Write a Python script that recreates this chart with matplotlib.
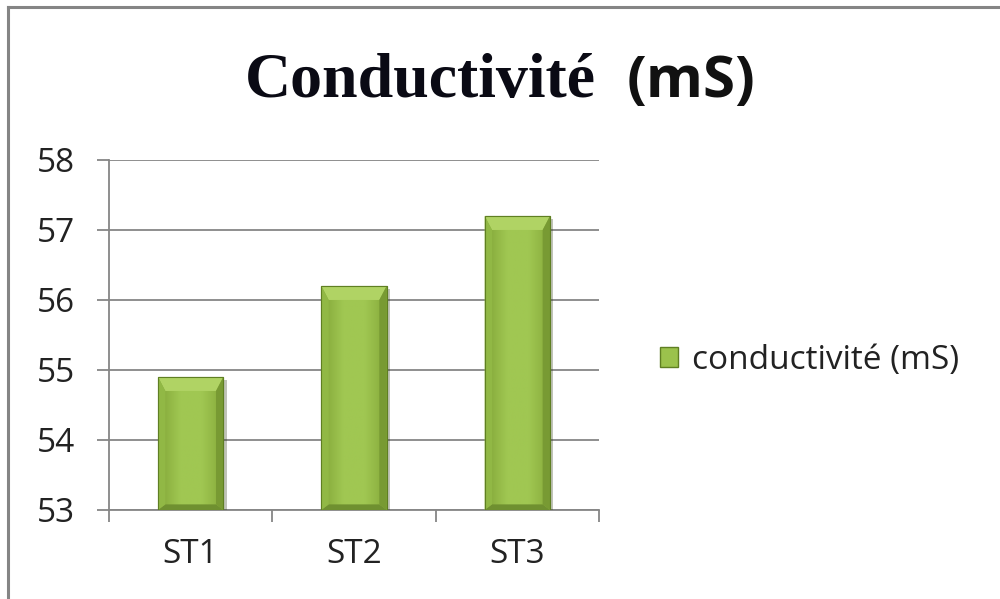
import matplotlib.pyplot as plt
import numpy as np
from matplotlib.patches import Polygon, Patch
from matplotlib.lines import Line2D
from matplotlib.colors import LinearSegmentedColormap
import matplotlib.patheffects as pe

# données
stations = ['ST1', 'ST2', 'ST3']
conductivite = [54.9, 56.2, 57.2]
y_ticks = [53, 54, 55, 56, 57, 58]
serie = 'conductivité (mS)'

base = y_ticks[0]
gris = '#868686'
vert = '#9bc24c'
police = 'Open Sans'

fig = plt.figure(figsize=(10, 5.99), dpi=100)
ax = fig.add_axes([0.109, 0.1486, 0.49, 0.5843])

x = np.arange(len(stations))
bars = ax.bar(x, np.array(conductivite) - base, bottom=base, width=0.4,
              color=vert, edgecolor='#5f7f22', linewidth=0.8, zorder=3)

# dégradé + biseau sur chaque barre
cmap = LinearSegmentedColormap.from_list('vert', ['#82a638', '#a0c752', '#a0c752', '#86aa3a'])
ex, ey = 0.045, 0.2
for b in bars:
    b.set_path_effects([pe.SimplePatchShadow(offset=(2.5, -2), alpha=0.3), pe.Normal()])
    x0, y0 = b.get_x(), b.get_y()
    x1, y1 = x0 + b.get_width(), y0 + b.get_height()
    im = ax.imshow(np.linspace(0, 1, 60).reshape(1, -1), cmap=cmap,
                   extent=[x0, x1, y0, y1], aspect='auto', zorder=3.2)
    im.set_clip_path(b)
    ax.add_patch(Polygon([(x0, y1), (x1, y1), (x1 - ex, y1 - ey), (x0 + ex, y1 - ey)],
                         color='#b0d364', lw=0, zorder=3.4))
    ax.add_patch(Polygon([(x0, y0), (x1, y0), (x1 - ex, y0 + ey * 0.4), (x0 + ex, y0 + ey * 0.4)],
                         color='#6f9030', lw=0, zorder=3.4))
    ax.add_patch(Polygon([(x0, y0), (x0 + ex, y0 + ey * 0.4), (x0 + ex, y1 - ey), (x0, y1)],
                         color='#91b845', lw=0, zorder=3.4))
    ax.add_patch(Polygon([(x1, y0), (x1 - ex, y0 + ey * 0.4), (x1 - ex, y1 - ey), (x1, y1)],
                         color='#789a33', lw=0, zorder=3.4))
    ax.add_patch(plt.Rectangle((x0, y0), x1 - x0, y1 - y0, fill=False,
                               edgecolor='#5f7f22', lw=0.8, zorder=3.6))

ax.set_xlim(-0.5, len(stations) - 0.5)
ax.set_ylim(y_ticks[0], y_ticks[-1])
ax.set_yticks(y_ticks)
ax.set_xticks(np.arange(len(stations) + 1) - 0.5)
ax.set_xticklabels([])
ax.set_xticks(x, minor=True)
ax.set_xticklabels(stations, minor=True)

ax.yaxis.grid(True, color=gris, linewidth=1.3)
ax.set_axisbelow(True)
for s in ['top', 'right']:
    ax.spines[s].set_visible(False)
for s in ['left', 'bottom']:
    ax.spines[s].set_color(gris)
    ax.spines[s].set_linewidth(1.3)

ax.tick_params(axis='y', length=8.6, width=1.3, color=gris, pad=16, labelsize=24,
               labelcolor='#222222', labelfontfamily=police)
ax.tick_params(axis='x', which='major', length=8.6, width=1.3, color=gris)
ax.tick_params(axis='x', which='minor', length=0, pad=20, labelsize=24,
               labelcolor='#222222', labelfontfamily=police)

# titre en deux polices
fig.text(0.245, 1 - 97 / 599, 'Conductivité', family='Liberation Serif',
         weight='bold', size=46, va='baseline', color='#0a0a14')
fig.text(0.627, 1 - 97 / 599, '(mS)', family=police, weight='bold',
         size=42, va='baseline', color='#111111')

# légende
poignee = Patch(facecolor=vert, edgecolor='#5f7f22')
fig.legend([poignee], [serie], loc='center left', bbox_to_anchor=(0.66, 1 - 360 / 599),
           frameon=False, prop={'family': police, 'size': 24},
           handlelength=0.55, handleheight=0.55, handletextpad=0.4,
           borderpad=0, borderaxespad=0, labelcolor='#222222')

# cadre du graphique
fig.add_artist(Line2D([0.008, 0.008], [0, 0.9875], transform=fig.transFigure,
                      color='#858585', lw=2.2))
fig.add_artist(Line2D([0.008, 1], [0.9875, 0.9875], transform=fig.transFigure,
                      color='#858585', lw=2.2))

fig.savefig('out.png', dpi=100)
